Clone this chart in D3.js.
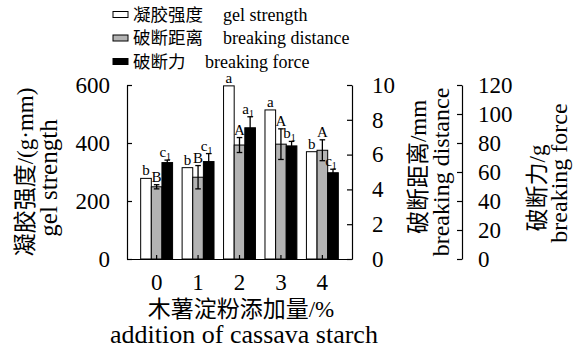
<!DOCTYPE html>
<html>
<head>
<meta charset="utf-8">
<script src="https://cdn.jsdelivr.net/npm/d3@7"></script>
<style>
  html, body { margin: 0; padding: 0; background: #fff; }
  svg { display: block; }
</style>
</head>
<body>
<svg id="chart" width="581" height="350"></svg>
<script>
// Cassava starch addition levels (%)
const categories = ["0", "1", "2", "3", "4"];

// Gel strength, g·mm (left axis)
const gelStrength = [278, 315, 597, 514, 370];
const gelLetters = ["b", "b", "a", "a", "b"];

// Breaking distance, mm (first right axis)
const breakDistance = [4.15, 4.7, 6.55, 6.6, 6.25];
const breakDistanceErr = [0.12, 0.67, 0.43, 0.88, 0.6];
const distLetters = ["B", "B", "A", "A", "A"];

// Breaking force, g (second right axis)
const breakForce = [66.5, 67.2, 90.5, 78, 59.5];
const breakForceErr = [1.7, 5.5, 7.6, 3.1, 2.4];
const forceLetters = ["c", "c", "a", "b", "c"];

const leftTicks = [0, 200, 400, 600];
const distTicks = [0, 2, 4, 6, 8, 10];
const forceTicks = [0, 20, 40, 60, 80, 100, 120];

const FONT = '"Liberation Serif", "Times New Roman", "Noto Sans CJK SC", serif';

const svg = d3.select("#chart")
  .style("font-family", FONT);

const plot = { left: 127, right: 352, top: 85, bottom: 259 };

const x = d3.scaleBand().domain(categories)
  .range([plot.left, plot.right]).paddingInner(0.23).paddingOuter(0.33);

const seriesKeys = ["gel", "dist", "force"];
const xs = d3.scaleBand().domain(seriesKeys).range([0, x.bandwidth()]);

const yGel = d3.scaleLinear().domain([0, 600]).range([plot.bottom, plot.top]);
const yDist = d3.scaleLinear().domain([0, 10]).range([plot.bottom, plot.top]);
const yForce = d3.scaleLinear().domain([0, 120]).range([plot.bottom, plot.top]);

const series = [
  { key: "gel", values: gelStrength, err: null, scale: yGel, fill: "#ffffff", letters: gelLetters, sub: false },
  { key: "dist", values: breakDistance, err: breakDistanceErr, scale: yDist, fill: "#b3b3b3", letters: distLetters, sub: false },
  { key: "force", values: breakForce, err: breakForceErr, scale: yForce, fill: "#000000", letters: forceLetters, sub: true }
];

// Bars
series.forEach(s => {
  const g = svg.append("g").attr("class", "bars-" + s.key);
  g.selectAll("rect").data(categories).join("rect")
    .attr("x", (c) => x(c) + xs(s.key))
    .attr("y", (c, i) => s.scale(s.values[i]))
    .attr("width", xs.bandwidth())
    .attr("height", (c, i) => plot.bottom - s.scale(s.values[i]))
    .attr("fill", s.fill)
    .attr("stroke", "#000")
    .attr("stroke-width", 1);
});

// Error bars
series.filter(s => s.err).forEach(s => {
  const g = svg.append("g").attr("class", "err-" + s.key).attr("stroke", "#000").attr("stroke-width", 1.3);
  categories.forEach((c, i) => {
    const cx = x(c) + xs(s.key) + xs.bandwidth() / 2;
    const hi = s.scale(s.values[i] + s.err[i]);
    const lo = s.scale(s.values[i] - s.err[i]);
    g.append("line").attr("x1", cx).attr("x2", cx).attr("y1", hi).attr("y2", lo);
    g.append("line").attr("x1", cx - 2.8).attr("x2", cx + 2.8).attr("y1", hi).attr("y2", hi);
    g.append("line").attr("x1", cx - 2.8).attr("x2", cx + 2.8).attr("y1", lo).attr("y2", lo);
  });
});

// Significance letters above each bar
series.forEach(s => {
  const g = svg.append("g").attr("class", "letters-" + s.key);
  categories.forEach((c, i) => {
    const cx = x(c) + xs(s.key) + xs.bandwidth() / 2;
    const top = s.err ? s.scale(s.values[i] + s.err[i]) : s.scale(s.values[i]);
    const t = g.append("text")
      .attr("x", s.sub ? cx - 2 : cx)
      .attr("y", top - 3)
      .attr("text-anchor", "middle")
      .style("font-size", "15px")
      .text(s.letters[i]);
    if (s.sub) {
      t.append("tspan").style("font-size", "10px").attr("dy", 3).text("1");
    }
  });
});

// Axes
const axisStyle = g => {
  g.attr("font-family", null).attr("font-size", null);
  g.selectAll("path, line").attr("stroke", "#000").attr("stroke-width", 1.2);
  g.selectAll("text").style("font-family", FONT).style("font-size", "23px").attr("fill", "#000");
};

svg.append("g")
  .attr("transform", `translate(${plot.left},0)`)
  .call(d3.axisLeft(yGel).tickValues(leftTicks).tickSizeInner(-5).tickSizeOuter(0).tickPadding(17))
  .call(axisStyle);

svg.append("g")
  .attr("transform", `translate(${plot.right},0)`)
  .call(d3.axisRight(yDist).tickValues(distTicks).tickSizeInner(-5).tickSizeOuter(0).tickPadding(20))
  .call(axisStyle);

svg.append("g")
  .attr("transform", "translate(462,0)")
  .call(d3.axisRight(yForce).tickValues(forceTicks).tickSizeInner(-5).tickSizeOuter(0).tickPadding(16))
  .call(axisStyle);

svg.append("g")
  .attr("transform", `translate(0,${plot.bottom})`)
  .call(d3.axisBottom(x).tickSizeInner(-4).tickSizeOuter(0).tickPadding(15))
  .call(axisStyle);

// Axis titles
const vTitle = (cx, cy, txt, size) => svg.append("text")
  .attr("transform", `translate(${cx},${cy}) rotate(-90)`)
  .attr("text-anchor", "middle").attr("dy", "0.35em")
  .style("font-size", size + "px").text(txt);

vTitle(25, 172, "凝胶强度/(g·mm)", 23);
vTitle(48, 178, "gel strength", 25);
vTitle(418, 167, "破断距离/mm", 23);
vTitle(441, 172, "breaking distance", 24);
vTitle(537, 188, "破断力/g", 23);
vTitle(559, 173, "breaking force", 24);

svg.append("text").attr("x", 241).attr("y", 317)
  .attr("text-anchor", "middle").style("font-size", "23px").text("木薯淀粉添加量/%");
svg.append("text").attr("x", 244).attr("y", 343)
  .attr("text-anchor", "middle").style("font-size", "26px").text("addition of cassava starch");

// Legend
const legendItems = [
  { zh: "凝胶强度", en: "gel strength", fill: "#ffffff", enX: 223 },
  { zh: "破断距离", en: "breaking distance", fill: "#b3b3b3", enX: 223 },
  { zh: "破断力", en: "breaking force", fill: "#000000", enX: 205 }
];
const legend = svg.append("g").attr("class", "legend");
legendItems.forEach((d, i) => {
  const cy = 14.5 + i * 23.5;
  legend.append("rect").attr("x", 113).attr("y", cy - 3).attr("width", 15).attr("height", 6)
    .attr("fill", d.fill).attr("stroke", "#000").attr("stroke-width", 1);
  legend.append("text").attr("x", 133).attr("y", cy).attr("dy", "0.35em")
    .style("font-size", "17.5px").text(d.zh);
  legend.append("text").attr("x", d.enX).attr("y", cy).attr("dy", "0.35em")
    .style("font-size", "18px").text(d.en);
});
</script>
</body>
</html>
